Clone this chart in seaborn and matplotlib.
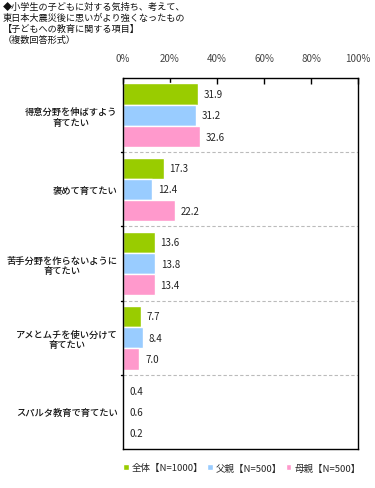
import matplotlib
matplotlib.use("Agg")
import matplotlib.pyplot as plt
import seaborn as sns
import pandas as pd

# data
items = [
    "得意分野を伸ばすよう\n育てたい",
    "褒めて育てたい",
    "苦手分野を作らないように\n育てたい",
    "アメとムチを使い分けて\n育てたい",
    "スパルタ教育で育てたい",
]
groups = ["全体【N=1000】", "父親【N=500】", "母親【N=500】"]
total = [31.9, 17.3, 13.6, 7.7, 0.4]
father = [31.2, 12.4, 13.8, 8.4, 0.6]
mother = [32.6, 22.2, 13.4, 7.0, 0.2]
x_ticks = [0, 20, 40, 60, 80, 100]

colors = ["#99cc00", "#99ccff", "#ff99cc"]

rows = []
for g, vals in zip(groups, [total, father, mother]):
    for it, v in zip(items, vals):
        rows.append({"item": it, "group": g, "value": v})
df = pd.DataFrame(rows)

sns.set_style("white")
plt.rcParams["font.family"] = ["Noto Sans CJK JP", "DejaVu Sans"]
plt.rcParams["font.size"] = 6.7

fig = plt.figure(figsize=(3.75, 4.89), dpi=100)
ax = fig.add_axes([0.328, 0.080, 0.627, 0.758])

sns.barplot(data=df, y="item", x="value", hue="group", order=items,
            hue_order=groups, palette=colors, orient="h", width=0.86,
            saturation=1, ax=ax, legend=True)

for c in ax.containers:
    ax.bar_label(c, labels=[f"{v:.1f}" for v in c.datavalues], padding=4,
                 fontsize=7, color="#222222")

ax.set_xlim(0, 100)
ax.set_ylim(len(items) - 0.5, -0.5)
ax.set_xticks(x_ticks)
ax.set_xticklabels([f"{t}%" for t in x_ticks], color="#444444", fontsize=7)
ax.xaxis.tick_top()
ax.tick_params(axis="x", direction="in", length=4, width=1, color="black", pad=11)
ax.tick_params(axis="y", length=0, pad=4)
for lab in ax.get_yticklabels():
    lab.set_multialignment("center")
    lab.set_color("#111111")
    lab.set_fontweight("medium")
ax.set_xlabel("")
ax.set_ylabel("")

# dashed separators between groups
for yb in [0.5, 1.5, 2.5, 3.5]:
    ax.axhline(yb, color="#bbbbbb", linestyle=(0, (3, 2)), linewidth=0.8)
    ax.plot([-1.0, 0], [yb, yb], color="black", linewidth=1, clip_on=False)

for s in ax.spines.values():
    s.set_color("black")
    s.set_linewidth(1)

handles, labels = ax.get_legend_handles_labels()
ax.get_legend().remove()
fig.legend(handles, labels, loc="center", bbox_to_anchor=(0.645, 0.041),
           ncol=3, frameon=False, handlelength=0.6, handleheight=0.6,
           handletextpad=0.3, columnspacing=0.4, fontsize=6.8)

title = ("◆小学生の子どもに対する気持ち、考えて、\n"
         "東日本大震災後に思いがより強くなったもの\n"
         "【子どもへの教育に関する項目】\n"
         "（複数回答形式）")
fig.text(0.008, 0.995, title, ha="left", va="top", fontsize=6.6,
         linespacing=1.3, color="#111111")

fig.savefig("out.png", dpi=100)
